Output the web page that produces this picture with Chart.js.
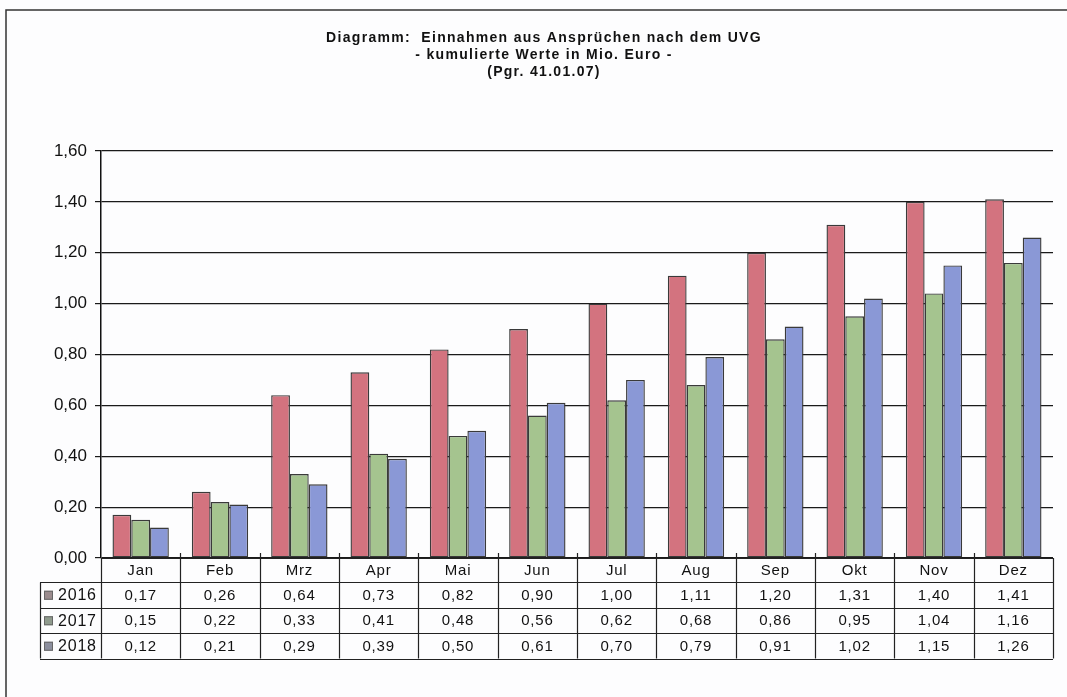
<!DOCTYPE html>
<html lang="de">
<head>
<meta charset="utf-8">
<title>Einnahmen aus Ansprüchen nach dem UVG</title>
<script src="https://cdn.jsdelivr.net/npm/chart.js@4.4.1/dist/chart.umd.min.js"></script>
<style>
  html, body { margin: 0; padding: 0; background: #fdfdfe; }
  #wrap { width: 1067px; height: 697px; }
</style>
</head>
<body>
<div id="wrap"><canvas id="uvg-chart" width="1067" height="697"></canvas></div>
<script>
// cumulative income per month, Mio. Euro
const months = ['Jan', 'Feb', 'Mrz', 'Apr', 'Mai', 'Jun', 'Jul', 'Aug', 'Sep', 'Okt', 'Nov', 'Dez'];
const years = ['2016', '2017', '2018'];
const values2016 = [0.17, 0.26, 0.64, 0.73, 0.82, 0.90, 1.00, 1.11, 1.20, 1.31, 1.40, 1.41];
const values2017 = [0.15, 0.22, 0.33, 0.41, 0.48, 0.56, 0.62, 0.68, 0.86, 0.95, 1.04, 1.16];
const values2018 = [0.12, 0.21, 0.29, 0.39, 0.50, 0.61, 0.70, 0.79, 0.91, 1.02, 1.15, 1.26];
const yTicks = [0, 0.2, 0.4, 0.6, 0.8, 1.0, 1.2, 1.4, 1.6];
const titleLines = [
    'Diagramm:  Einnahmen aus Ansprüchen nach dem UVG',
    '- kumulierte Werte in Mio. Euro -',
    '(Pgr. 41.01.07)'
];

const barColors = ['#d3737f', '#a5c48f', '#8a98d6'];
const keyColors = ['#9b8c8e', '#8f9b8d', '#8c8f9e'];
const FONT = '"Liberation Sans", Arial, sans-serif';

const fmt = v => v.toFixed(2).replace('.', ',');

// page frame + title
const framePlugin = {
    id: 'frame',
    beforeDraw(chart) {
        const ctx = chart.ctx;
        ctx.save();
        ctx.fillStyle = '#fdfdfe';
        ctx.fillRect(0, 0, chart.width, chart.height);
        ctx.strokeStyle = '#333';
        ctx.lineWidth = 1.5;
        ctx.beginPath();
        ctx.moveTo(6, chart.height);
        ctx.lineTo(6, 10);
        ctx.lineTo(chart.width, 10);
        ctx.stroke();

        ctx.fillStyle = '#111';
        ctx.font = 'bold 14px ' + FONT;
        ctx.textAlign = 'center';
        ctx.textBaseline = 'middle';
        ctx.letterSpacing = '1.3px';
        titleLines.forEach((line, i) => ctx.fillText(line, 544, 38 + i * 17));
        ctx.restore();
    }
};

// data table under the plot, columns follow the category scale
const tablePlugin = {
    id: 'dataTable',
    afterDraw(chart) {
        const ctx = chart.ctx;
        const x = chart.scales.x;
        const cw = (x.right - x.left) / months.length;
        const top = chart.chartArea.bottom;
        const headH = 24, rowH = 25.5;
        const tableLeft = 40;
        const bottom = top + headH + rowH * years.length;
        const series = [values2016, values2017, values2018];
        const px = v => Math.round(v) + 0.5;

        ctx.save();
        ctx.strokeStyle = '#222';
        ctx.lineWidth = 1.2;
        ctx.beginPath();
        ctx.moveTo(x.left, px(top));
        ctx.lineTo(x.right, px(top));
        for (let r = 0; r <= years.length; r++) {
            const y = px(top + headH + r * rowH);
            ctx.moveTo(tableLeft, y);
            ctx.lineTo(x.right, y);
        }
        for (let i = 0; i <= months.length; i++) {
            const xx = px(x.left + i * cw);
            ctx.moveTo(xx, top - (i > 0 && i < months.length ? 5 : 0));
            ctx.lineTo(xx, bottom);
        }
        ctx.moveTo(px(tableLeft), px(top + headH));
        ctx.lineTo(px(tableLeft), bottom);
        ctx.stroke();

        ctx.fillStyle = '#111';
        ctx.textBaseline = 'middle';
        ctx.letterSpacing = '0.8px';
        ctx.textAlign = 'center';
        ctx.font = '15px ' + FONT;
        months.forEach((m, i) => ctx.fillText(m, x.left + (i + 0.5) * cw, top + headH / 2 + 1));

        years.forEach((yr, r) => {
            const cy = top + headH + (r + 0.5) * rowH + 1;
            ctx.fillStyle = keyColors[r];
            ctx.fillRect(44, cy - 5, 9, 9);
            ctx.strokeStyle = '#666';
            ctx.lineWidth = 1;
            ctx.strokeRect(44.5, cy - 4.5, 8, 8);
            ctx.fillStyle = '#111';
            ctx.textAlign = 'left';
            ctx.font = '16px ' + FONT;
            ctx.fillText(yr, 58, cy);
            ctx.textAlign = 'center';
            ctx.font = '15px ' + FONT;
            series[r].forEach((v, i) => ctx.fillText(fmt(v), x.left + (i + 0.5) * cw, cy));
        });
        ctx.restore();
    }
};

const ctx = document.getElementById('uvg-chart').getContext('2d');
new Chart(ctx, {
    type: 'bar',
    data: {
        labels: months,
        datasets: [values2016, values2017, values2018].map((vals, i) => ({
            label: years[i],
            data: vals,
            backgroundColor: barColors[i],
            borderColor: '#3a3a3a',
            borderWidth: 1.4,
            borderSkipped: false,
            categoryPercentage: 0.71,
            barPercentage: 1.0
        }))
    },
    options: {
        responsive: false,
        animation: false,
        devicePixelRatio: 1,
        layout: { padding: { top: 151, left: 10, right: 14, bottom: 139 } },
        plugins: {
            legend: { display: false },
            title: { display: false },
            tooltip: { enabled: false }
        },
        scales: {
            x: { display: false, offset: true },
            y: {
                min: 0,
                max: 1.6,
                afterBuildTicks: scale => { scale.ticks = yTicks.map(v => ({ value: v })); },
                afterFit: scale => { scale.width = 91; },
                ticks: {
                    callback: v => fmt(v),
                    color: '#111',
                    padding: 8,
                    font: { family: FONT, size: 17 }
                },
                grid: { color: '#1a1a1a', lineWidth: 1.2, tickLength: 6 },
                border: { color: '#111', width: 1.5 }
            }
        }
    },
    plugins: [framePlugin, tablePlugin]
});
</script>
</body>
</html>
